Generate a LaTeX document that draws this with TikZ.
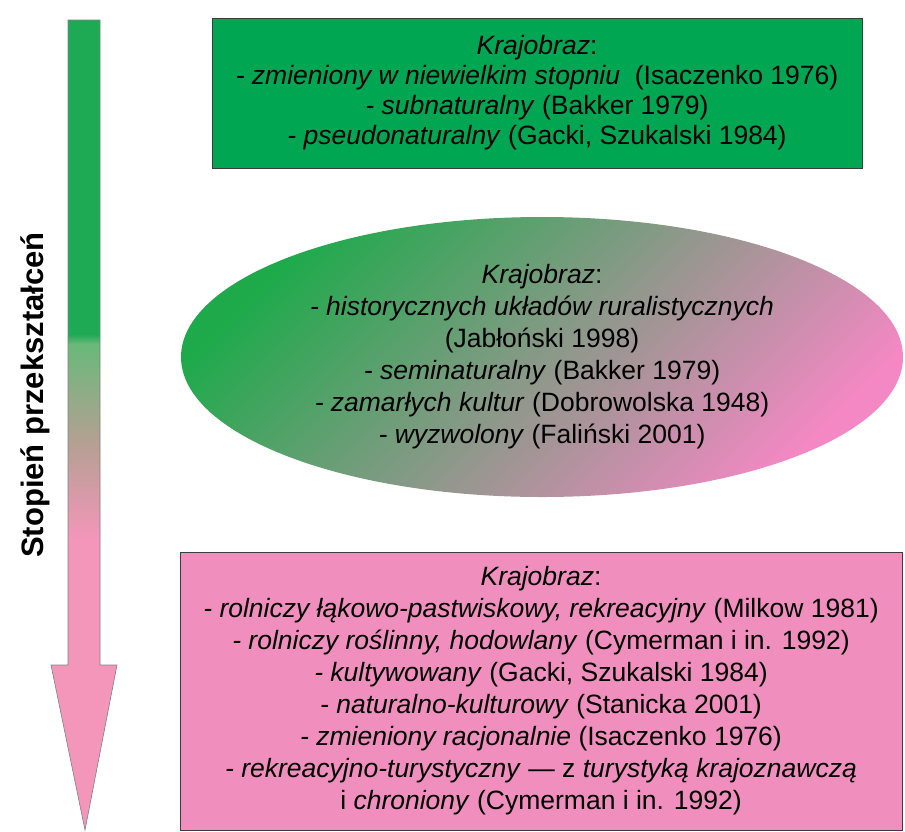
\documentclass[tikz,border=0pt]{standalone}
\usepackage{fontspec}
\setmainfont{Liberation Sans}
\usepackage{xcolor}
\usepackage{tikz}
\usetikzlibrary{shapes.geometric}

\definecolor{boxgreen}{RGB}{0,166,81}
\definecolor{boxpink}{RGB}{240,142,190}
\definecolor{ellgreen}{RGB}{30,170,75}
\definecolor{ellpink}{RGB}{244,136,196}
\definecolor{boxline}{RGB}{60,60,60}
\definecolor{arrgreen}{RGB}{30,170,85}
\definecolor{arrlight}{RGB}{105,185,122}
\definecolor{arrtan}{RGB}{180,160,146}
\definecolor{arrpink}{RGB}{243,150,186}

\pgfdeclareverticalshading{arrowshade}{100bp}{color(0bp)=(arrpink); color(43bp)=(arrpink); color(49bp)=(arrtan); color(55bp)=(arrlight); color(55.6bp)=(arrgreen); color(100bp)=(arrgreen)}

\begin{document}
\begin{tikzpicture}[x=1pt, y=-1pt,
	textbox/.style={align=center, inner sep=0pt},
	rectbox/.style={textbox, draw=boxline, line width=0.8pt}]
		\def\ax{84};
		\def\sw{16};
		\def\hw{33};
		\def\hy{665};
		\def\tipy{830};

		\useasboundingbox (0,0) rectangle (905,831);

		\draw [draw=black!50, line width=0.6pt, shade, shading=arrowshade] ({\ax-\sw},20) -- ({\ax+\sw},20) -- ({\ax+\sw},\hy) -- ({\ax+\hw},\hy) -- (\ax+1,\tipy) -- ({\ax-\hw},\hy) -- ({\ax-\sw},\hy) -- cycle;

		\node [rotate=90, font=\fontsize{31}{36}\bfseries] (label) at (35,395) {Stopień przekształceń};

		\node [rectbox, fill=boxgreen, minimum width=650pt, minimum height=150pt, font=\fontsize{26.5}{30}\selectfont] (top) at (537,93)
			{\textit{Krajobraz}:\\
			\textit{- zmieniony w niewielkim stopniu}\ \ (Isaczenko 1976)\\
			\textit{- subnaturalny} (Bakker 1979)\\
			\textit{- pseudonaturalny} (Gacki, Szukalski 1984)};

		\node [textbox, ellipse, left color=ellgreen, right color=ellpink, shading angle=45, minimum width=722pt, minimum height=280pt, font=\fontsize{26.5}{32}\selectfont] (mid) at (542,357)
			{\textit{Krajobraz}:\\
			\textit{- historycznych układów ruralistycznych}\\
			(Jabłoński 1998)\\
			\textit{- seminaturalny} (Bakker 1979)\\
			\textit{- zamarłych kultur} (Dobrowolska 1948)\\
			\textit{- wyzwolony} (Faliński 2001)};

		\node [rectbox, fill=boxpink, minimum width=722pt, minimum height=278pt, font=\fontsize{26.5}{32}\selectfont] (bot) at (541,691)
			{\textit{Krajobraz}:\\
			\textit{- rolniczy łąkowo-pastwiskowy, rekreacyjny} (Milkow 1981)\\
			\textit{- rolniczy roślinny, hodowlany} (Cymerman i in. 1992)\\
			\textit{- kultywowany} (Gacki, Szukalski 1984)\\
			\textit{- naturalno-kulturowy} (Stanicka 2001)\\
			\textit{- zmieniony racjonalnie} (Isaczenko 1976)\\
			\textit{- rekreacyjno-turystyczny} — z \textit{turystyką krajoznawczą}\\
			i \textit{chroniony} (Cymerman i in. 1992)};
	\end{tikzpicture}
\end{document}
